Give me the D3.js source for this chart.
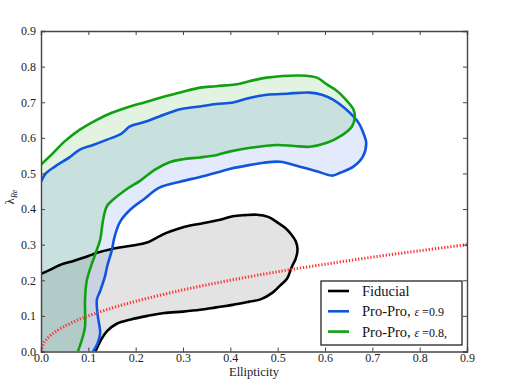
<!DOCTYPE html>
<html>
<head>
<meta charset="utf-8">
<script src="https://cdn.jsdelivr.net/npm/d3@7"></script>
<style>
  html, body { margin: 0; padding: 0; background: #fff; }
  svg { display: block; }
</style>
</head>
<body>
<div id="chart"></div>
<script>
// ---------------------------------------------------------------
// DATA (ellipticity, lambda_Re)
// ---------------------------------------------------------------

const fiducialLine = [
  [0, 0.218], [0.02, 0.23], [0.04, 0.243], [0.07, 0.255], [0.1, 0.268], [0.118, 0.277],
  [0.15, 0.288], [0.19, 0.297], [0.224, 0.306], [0.245, 0.32], [0.265, 0.333], [0.29, 0.345],
  [0.32, 0.355], [0.35, 0.362], [0.378, 0.37], [0.405, 0.38], [0.43, 0.383], [0.456, 0.384],
  [0.48, 0.378], [0.5, 0.362], [0.515, 0.348], [0.528, 0.33], [0.538, 0.31], [0.542, 0.286],
  [0.538, 0.26], [0.53, 0.238], [0.52, 0.205], [0.505, 0.185], [0.49, 0.166], [0.465, 0.147],
  [0.44, 0.14], [0.405, 0.131], [0.37, 0.124], [0.336, 0.117], [0.3, 0.112], [0.26, 0.108],
  [0.225, 0.1], [0.19, 0.09], [0.16, 0.078], [0.14, 0.058], [0.13, 0.04], [0.12, 0.015], [0.115, 0]
];

const proPro09Line = [
  [0, 0.477], [0.01, 0.5], [0.03, 0.52], [0.06, 0.545], [0.082, 0.567], [0.11, 0.58],
  [0.14, 0.595], [0.17, 0.612], [0.188, 0.632], [0.22, 0.645], [0.25, 0.66], [0.294, 0.68],
  [0.336, 0.688], [0.37, 0.695], [0.406, 0.699], [0.44, 0.712], [0.477, 0.721], [0.52, 0.724],
  [0.568, 0.727], [0.595, 0.72], [0.617, 0.707], [0.64, 0.685], [0.66, 0.66], [0.672, 0.64],
  [0.68, 0.617], [0.687, 0.586], [0.68, 0.547], [0.66, 0.519], [0.632, 0.502], [0.615, 0.494],
  [0.583, 0.506], [0.547, 0.519], [0.505, 0.533], [0.47, 0.53], [0.442, 0.524], [0.4, 0.513],
  [0.378, 0.505], [0.336, 0.49], [0.294, 0.477], [0.25, 0.46], [0.216, 0.426], [0.19, 0.4],
  [0.167, 0.364], [0.155, 0.32], [0.15, 0.286], [0.14, 0.24], [0.135, 0.21], [0.125, 0.17],
  [0.118, 0.145], [0.12, 0.1], [0.125, 0.052], [0.12, 0.025], [0.11, 0]
];

const proPro08Line = [
  [0, 0.525], [0.02, 0.55], [0.05, 0.59], [0.082, 0.623], [0.11, 0.645], [0.14, 0.665],
  [0.188, 0.688], [0.22, 0.7], [0.25, 0.712], [0.294, 0.727], [0.336, 0.741], [0.37, 0.745],
  [0.42, 0.752], [0.45, 0.762], [0.477, 0.769], [0.547, 0.775], [0.583, 0.769], [0.604, 0.75],
  [0.622, 0.735], [0.638, 0.716], [0.66, 0.68], [0.663, 0.66], [0.657, 0.632], [0.632, 0.604],
  [0.604, 0.586], [0.568, 0.575], [0.535, 0.577], [0.499, 0.58], [0.442, 0.572], [0.4, 0.562],
  [0.372, 0.552], [0.336, 0.545], [0.3, 0.54], [0.273, 0.532], [0.24, 0.51], [0.21, 0.48],
  [0.18, 0.455], [0.152, 0.426], [0.14, 0.41], [0.135, 0.393], [0.13, 0.36], [0.125, 0.314],
  [0.114, 0.271], [0.097, 0.201], [0.093, 0.145], [0.093, 0.07], [0.088, 0.04], [0.078, 0]
];

const edgeOnLine = [
  [0, 0.0], [0.005, 0.022], [0.01, 0.032], [0.02, 0.045], [0.03, 0.055], [0.05, 0.071],
  [0.075, 0.087], [0.1, 0.1], [0.15, 0.122], [0.2, 0.141], [0.3, 0.173], [0.4, 0.2],
  [0.5, 0.224], [0.6, 0.245], [0.7, 0.265], [0.8, 0.283], [0.9, 0.3]
];

const xTicks = [0, 0.1, 0.2, 0.3, 0.4, 0.5, 0.6, 0.7, 0.8, 0.9];
const yTicks = [0, 0.1, 0.2, 0.3, 0.4, 0.5, 0.6, 0.7, 0.8, 0.9];

const series = [
  { name: "Fiducial", math: null, line: fiducialLine, color: "#000000", fill: 0.11 },
  { name: "Pro-Pro, ", math: "0.9", line: proPro09Line, color: "#1155dd", fill: 0.12 },
  { name: "Pro-Pro, ", math: "0.8,", line: proPro08Line, color: "#10a010", fill: 0.12 }
];

// ---------------------------------------------------------------
// LAYOUT
// ---------------------------------------------------------------

const width = 509, height = 382;
const margin = { top: 31, right: 42, bottom: 30.5, left: 41 };
const serif = "'Liberation Serif', 'DejaVu Serif', serif";

const svg = d3.select("#chart").append("svg")
  .attr("width", width)
  .attr("height", height);

const x = d3.scaleLinear().domain([0, 0.9]).range([margin.left, width - margin.right]);
const y = d3.scaleLinear().domain([0, 0.9]).range([height - margin.bottom, margin.top]);

svg.append("clipPath").attr("id", "plot")
  .append("rect")
  .attr("x", x(0)).attr("y", y(0.9))
  .attr("width", x(0.9) - x(0)).attr("height", y(0) - y(0.9));

const plot = svg.append("g").attr("clip-path", "url(#plot)");

const line = d3.line().x(d => x(d[0])).y(d => y(d[1])).curve(d3.curveCatmullRom.alpha(0.5));
const area = d3.line().x(d => x(d[0])).y(d => y(d[1]));

// ---------------------------------------------------------------
// CONTOURS (fill + outline)
// ---------------------------------------------------------------

series.forEach(s => {
  plot.append("path")
    .attr("d", area(s.line.concat([[0, 0]])))
    .attr("fill", s.color)
    .attr("fill-opacity", s.fill)
    .attr("stroke", "none");
});

series.forEach(s => {
  plot.append("path")
    .attr("d", line(s.line))
    .attr("fill", "none")
    .attr("stroke", s.color)
    .attr("stroke-width", 2.6)
    .attr("stroke-linejoin", "round");
});

// red dotted edge-on line
plot.append("path")
  .attr("d", line(edgeOnLine))
  .attr("fill", "none")
  .attr("stroke", "#ff3333")
  .attr("stroke-width", 3)
  .attr("stroke-dasharray", "1.3,1.8");

// ---------------------------------------------------------------
// AXES (inward ticks on all four sides)
// ---------------------------------------------------------------

const fmt = d3.format(".1f");

const xAxis = svg.append("g")
  .attr("transform", `translate(0,${y(0)})`)
  .call(d3.axisBottom(x).tickValues(xTicks).tickFormat(fmt).tickSize(-4).tickPadding(2));
svg.append("g")
  .attr("transform", `translate(0,${y(0.9)})`)
  .call(d3.axisTop(x).tickValues(xTicks).tickFormat("").tickSize(-4));
const yAxis = svg.append("g")
  .attr("transform", `translate(${x(0)},0)`)
  .call(d3.axisLeft(y).tickValues(yTicks).tickFormat(fmt).tickSize(-4).tickPadding(5));
svg.append("g")
  .attr("transform", `translate(${x(0.9)},0)`)
  .call(d3.axisRight(y).tickValues(yTicks).tickFormat("").tickSize(-4));

svg.selectAll(".domain").attr("stroke", "#444").attr("stroke-width", 1.4);
svg.selectAll(".tick line").attr("stroke", "#444").attr("stroke-width", 1);
svg.selectAll(".tick text")
  .attr("font-family", serif)
  .attr("font-size", "12px")
  .attr("fill", "#222");
xAxis.selectAll(".tick text").attr("y", 10.5).attr("dy", null);
// keep the axes frame on top of fills
svg.selectAll("g.tick, .domain").raise();

// axis titles
svg.append("text")
  .attr("x", (x(0) + x(0.9)) / 2)
  .attr("y", 376)
  .attr("text-anchor", "middle")
  .attr("font-family", serif)
  .attr("font-size", "12.5px")
  .attr("fill", "#222")
  .text("Ellipticity");

const yl = svg.append("text")
  .attr("transform", "translate(14,197) rotate(-90)")
  .attr("text-anchor", "middle")
  .attr("font-family", serif)
  .attr("font-size", "13px")
  .attr("fill", "#222");
yl.append("tspan").text("λ");
yl.append("tspan").attr("font-size", "8px").attr("font-style", "italic").attr("dy", 3).text("Re");

// ---------------------------------------------------------------
// LEGEND
// ---------------------------------------------------------------

const legend = svg.append("g").attr("transform", "translate(321,281)");
legend.append("rect")
  .attr("width", 141).attr("height", 64)
  .attr("fill", "#fff")
  .attr("stroke", "#111")
  .attr("stroke-width", 1.2);

series.forEach((s, i) => {
  const row = legend.append("g").attr("transform", `translate(0,${10 + i * 20.3})`);
  row.append("line")
    .attr("x1", 7).attr("x2", 28)
    .attr("stroke", s.color).attr("stroke-width", 2.6);
  const t = row.append("text")
    .attr("x", 41).attr("y", 5)
    .attr("font-family", serif)
    .attr("font-size", "14.5px")
    .attr("fill", "#111");
  t.append("tspan").text(s.name);
  if (s.math) {
    t.append("tspan").attr("font-style", "italic").attr("font-size", "12px").text("\u03B5");
    t.append("tspan").attr("font-size", "12px").text(" =" + s.math);
  }
});
</script>
</body>
</html>
